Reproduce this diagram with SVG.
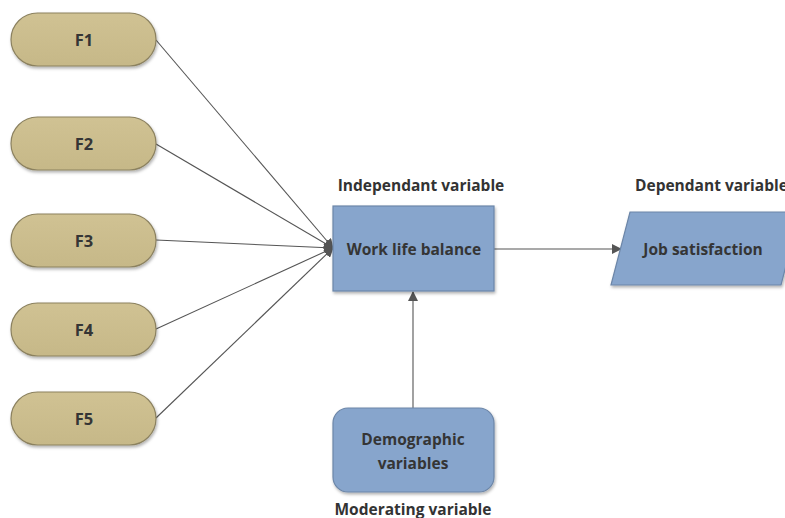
<svg xmlns="http://www.w3.org/2000/svg" width="785" height="518" viewBox="0 0 785 518">
<style>
.pill{fill:url(#gold);stroke:#8b815f;stroke-width:1.2}
.blue{fill:#87a5cc;stroke:#6c86a8;stroke-width:1.2}
.lbl{font-family:"Open Sans",sans-serif;font-weight:bold;font-size:15.5px;fill:#353535;text-anchor:middle}
.f{font-size:16.5px}
.cap{font-family:"Open Sans",sans-serif;font-weight:bold;font-size:15.5px;fill:#333;text-anchor:middle}
.con{stroke:#555;stroke-width:1.1;fill:none;marker-end:url(#ah)}
</style>
<defs>
<linearGradient id="gold" x1="0" y1="0" x2="0" y2="1"><stop offset="0" stop-color="#d0c293"/><stop offset="1" stop-color="#c6b888"/></linearGradient>
<filter id="sh" x="-10%" y="-10%" width="130%" height="140%"><feDropShadow dx="1" dy="2" stdDeviation="1.5" flood-color="#000" flood-opacity="0.3"/></filter>
<marker id="ah" markerWidth="10" markerHeight="10" refX="9" refY="5" orient="auto" markerUnits="userSpaceOnUse"><path d="M0,0 L10,5 L0,10 Z" fill="#555"/></marker>
</defs>
<g id="connectors">
<line class="con" x1="156" y1="40" x2="333" y2="248"/>
<line class="con" x1="156" y1="144" x2="333" y2="248"/>
<line class="con" x1="156" y1="240" x2="333" y2="248"/>
<line class="con" x1="156" y1="329" x2="333" y2="248"/>
<line class="con" x1="156" y1="418" x2="333" y2="248"/>
<line class="con" x1="494" y1="249" x2="621" y2="249"/>
<line class="con" x1="413" y1="408" x2="413" y2="292"/>
</g>
<g id="f1"><rect class="pill" filter="url(#sh)" x="11" y="13" width="145" height="53" rx="26.5"/><text class="lbl f" x="84" y="46">F1</text></g>
<g id="f2"><rect class="pill" filter="url(#sh)" x="11" y="117" width="145" height="53" rx="26.5"/><text class="lbl f" x="84" y="150">F2</text></g>
<g id="f3"><rect class="pill" filter="url(#sh)" x="11" y="214" width="145" height="53" rx="26.5"/><text class="lbl f" x="84" y="247">F3</text></g>
<g id="f4"><rect class="pill" filter="url(#sh)" x="11" y="303" width="145" height="53" rx="26.5"/><text class="lbl f" x="84" y="336">F4</text></g>
<g id="f5"><rect class="pill" filter="url(#sh)" x="11" y="392" width="145" height="53" rx="26.5"/><text class="lbl f" x="84" y="425">F5</text></g>
<g id="wlb"><rect class="blue" filter="url(#sh)" x="333" y="206" width="161" height="85"/><text class="lbl" x="414" y="255">Work life balance</text>
<text class="cap" x="421" y="191">Independant variable</text></g>
<g id="job"><polygon class="blue" filter="url(#sh)" points="630,212 800,212 781,285 611,285"/><text class="lbl" x="703" y="255">Job satisfaction</text>
<text class="cap" x="635" y="191" style="text-anchor:start">Dependant variable</text></g>
<g id="demo"><rect class="blue" filter="url(#sh)" x="333" y="408" width="161" height="84" rx="15"/><text class="lbl" x="413" y="445">Demographic</text><text class="lbl" x="413" y="469">variables</text>
<text class="cap" x="413" y="515">Moderating variable</text></g>
</svg>
